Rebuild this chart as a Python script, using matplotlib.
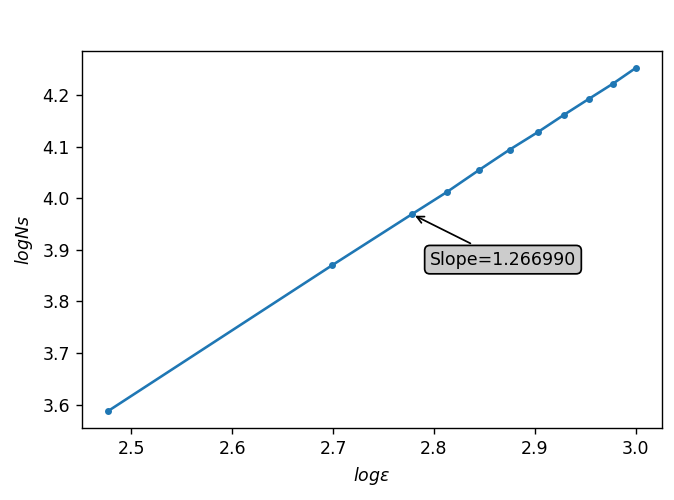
import matplotlib
matplotlib.use('Agg')
import matplotlib.pyplot as plt

# log(epsilon) and log(Ns)
log_eps = [2.4771, 2.6990, 2.7782, 2.8129, 2.8451, 2.8751, 2.9031, 2.9294, 2.9542, 2.9777, 3.0000]
log_ns = [3.588, 3.870, 3.969, 4.012, 4.055, 4.094, 4.128, 4.162, 4.193, 4.222, 4.252]
slope = 1.266990

fig, ax = plt.subplots(figsize=(5.392, 4.0), dpi=125)
fig.subplots_adjust(left=0.1217, right=0.982, top=0.898, bottom=0.144)

ax.plot(log_eps, log_ns, marker='.', color='#1f77b4')
ax.set_xlabel(r'$log\epsilon$')
ax.set_ylabel(r'$logNs$')

ax.annotate('Slope=%f' % slope, xy=(log_eps[2], log_ns[2]),
            xytext=(2.796, 3.881),
            bbox=dict(boxstyle='round', fc='0.8', ec='k'),
            arrowprops=dict(arrowstyle='->', color='k'),
            va='center')

fig.savefig('out.png', dpi=125)
